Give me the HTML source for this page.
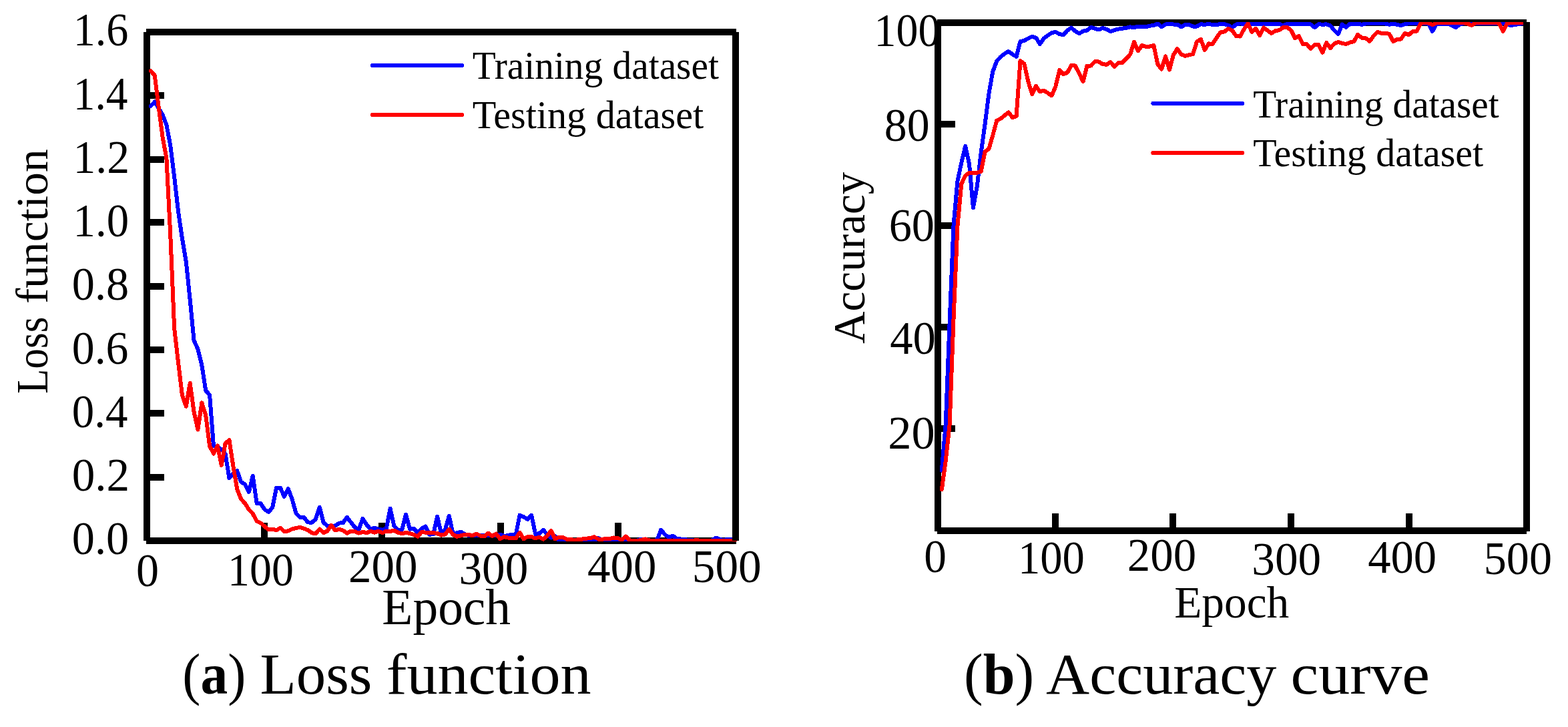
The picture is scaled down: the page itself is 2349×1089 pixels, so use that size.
<!DOCTYPE html>
<html lang="en"><head><meta charset="utf-8"><title>Loss function and accuracy curve</title>
<style>html,body{margin:0;padding:0;background:#fff}body{width:2349px;height:1089px;overflow:hidden}svg{display:block}text{font-family:"Liberation Serif",serif;fill:#000}</style>
</head><body>
<svg width="2349" height="1089" viewBox="0 0 2349 1089">
<rect width="2349" height="1089" fill="#fff"/>
<text x="1309.47" y="69.40" font-size="70.00" textLength="98.87" lengthAdjust="spacingAndGlyphs">100</text>
<text x="1324.79" y="211.00" font-size="70.00" textLength="67.83" lengthAdjust="spacingAndGlyphs">80</text>
<text x="1331.63" y="360.90" font-size="70.00" textLength="68.31" lengthAdjust="spacingAndGlyphs">60</text>
<text x="1333.23" y="530.00" font-size="70.00" textLength="68.62" lengthAdjust="spacingAndGlyphs">40</text>
<text x="1330.23" y="671.60" font-size="70.00" textLength="70.49" lengthAdjust="spacingAndGlyphs">20</text>
<clipPath id="cl"><rect x="218" y="47" width="886" height="764"/></clipPath>
<g stroke="#000" stroke-width="10" fill="none" shape-rendering="crispEdges">
<line x1="219" y1="48" x2="1103" y2="48"/>
<line x1="219" y1="810" x2="1103" y2="810"/>
<line x1="220" y1="48" x2="220" y2="810"/>
<line x1="220" y1="143.0" x2="246" y2="143.0"/>
<line x1="220" y1="239.0" x2="246" y2="239.0"/>
<line x1="220" y1="333.0" x2="246" y2="333.0"/>
<line x1="220" y1="429.0" x2="246" y2="429.0"/>
<line x1="220" y1="524.0" x2="246" y2="524.0"/>
<line x1="220" y1="619.0" x2="246" y2="619.0"/>
<line x1="220" y1="715.0" x2="246" y2="715.0"/>
<line x1="396.0" y1="810" x2="396.0" y2="783"/>
<line x1="572.0" y1="810" x2="572.0" y2="783"/>
<line x1="750.0" y1="810" x2="750.0" y2="783"/>
<line x1="926.0" y1="810" x2="926.0" y2="783"/>
</g>
<g clip-path="url(#cl)" fill="none" stroke-width="6.0" stroke-linejoin="round" stroke-linecap="round" shape-rendering="crispEdges">
<polyline stroke="#00f" points="225.88,158.90 231.76,152.40 237.64,162.00 243.52,172.00 249.40,187.00 255.28,218.00 261.16,265.00 267.04,317.00 272.92,357.00 278.80,392.00 284.68,449.00 290.56,510.00 296.44,523.00 302.32,547.00 308.20,585.00 314.08,591.50 319.96,668.00 325.84,670.00 331.72,673.00 337.60,680.00 343.48,716.30 349.36,709.00 355.24,705.30 361.12,721.80 367.00,725.50 372.88,736.90 378.76,712.60 384.64,754.00 390.52,754.00 396.40,763.20 402.28,766.80 408.16,760.40 414.04,730.60 419.92,730.60 425.80,743.90 431.68,731.90 437.56,747.50 443.44,768.70 449.32,774.70 455.20,774.70 461.08,782.40 466.96,782.80 472.84,778.00 478.72,759.80 484.60,782.50 490.48,788.00 496.36,788.00 502.24,787.60 508.12,783.60 514.00,783.00 519.88,774.70 525.76,782.50 531.64,789.90 537.52,793.60 543.40,776.60 549.28,786.20 555.16,792.60 561.04,790.60 566.92,792.60 572.80,793.60 578.68,792.60 584.56,761.70 590.44,788.00 596.32,794.50 602.20,793.60 608.08,770.60 613.96,792.60 619.84,791.50 625.72,798.00 631.60,791.70 637.48,788.60 643.36,800.90 649.24,800.00 655.12,773.60 661.00,799.10 666.88,793.60 672.76,772.70 678.64,800.00 684.52,798.20 690.40,796.60 696.28,800.00 702.16,802.00 708.04,802.00 713.92,802.00 719.80,802.00 725.68,802.00 731.56,802.00 737.44,802.00 743.32,801.80 749.20,800.50 755.08,802.70 760.96,802.30 766.84,800.70 772.72,800.90 778.60,771.80 784.48,774.30 790.36,777.90 796.24,771.80 802.12,800.00 808.00,799.10 813.88,793.80 819.76,800.90 825.64,805.50 831.52,802.80 837.40,809.50 843.28,810.10 849.16,810.00 855.04,810.00 860.92,810.00 866.80,810.00 872.68,810.00 878.56,810.00 884.44,810.00 890.32,810.00 896.20,805.70 902.08,809.50 907.96,810.50 913.84,810.50 919.72,810.50 925.60,810.50 931.48,810.50 937.36,810.50 943.24,810.50 949.12,810.50 955.00,809.40 960.88,807.50 966.76,810.00 972.64,810.00 978.52,810.00 984.40,808.80 990.28,793.60 996.16,800.90 1002.04,804.80 1007.92,802.50 1013.80,807.10 1019.68,807.50 1025.56,808.00 1031.44,809.00 1037.32,809.40 1043.20,810.00 1049.08,810.00 1054.96,810.00 1060.84,810.00 1066.72,809.40 1072.60,805.60 1078.48,807.80 1084.36,809.00 1090.24,807.80 1096.12,807.80 1102.00,809.00"/>
<polyline stroke="#f00" points="225.88,106.20 231.76,113.00 237.64,160.00 243.52,205.00 249.40,237.00 255.28,352.00 261.16,492.00 267.04,543.00 272.92,592.00 278.80,608.70 284.68,573.80 290.56,617.00 296.44,643.60 302.32,603.20 308.20,622.00 314.08,668.00 319.96,679.60 325.84,667.60 331.72,697.00 337.60,664.00 343.48,659.40 349.36,698.00 355.24,732.80 361.12,747.50 367.00,754.00 372.88,763.20 378.76,769.60 384.64,780.60 390.52,783.40 396.40,788.50 402.28,793.50 408.16,792.50 414.04,794.40 419.92,790.70 425.80,796.20 431.68,795.30 437.56,792.50 443.44,791.00 449.32,789.80 455.20,791.60 461.08,794.00 466.96,798.20 472.84,799.30 478.72,792.60 484.60,798.20 490.48,795.40 496.36,786.70 502.24,794.50 508.12,792.90 514.00,794.50 519.88,798.60 525.76,795.70 531.64,796.30 537.52,798.60 543.40,796.80 549.28,798.20 555.16,795.90 561.04,797.70 566.92,795.90 572.80,798.00 578.68,795.90 584.56,795.90 590.44,794.80 596.32,797.70 602.20,799.50 608.08,797.70 613.96,799.10 619.84,800.90 625.72,803.70 631.60,796.80 637.48,797.70 643.36,798.20 649.24,798.00 655.12,799.10 661.00,801.60 666.88,800.50 672.76,792.80 678.64,800.90 684.52,803.70 690.40,802.30 696.28,800.70 702.16,800.90 708.04,802.30 713.92,799.60 719.80,802.70 725.68,803.20 731.56,798.70 737.44,803.20 743.32,799.60 749.20,807.30 755.08,804.10 760.96,805.50 766.84,806.40 772.72,806.40 778.60,797.70 784.48,807.30 790.36,804.00 796.24,804.10 802.12,806.40 808.00,804.60 813.88,807.80 819.76,802.70 825.64,794.90 831.52,807.30 837.40,804.90 843.28,804.90 849.16,807.80 855.04,808.10 860.92,809.00 866.80,808.00 872.68,807.50 878.56,806.60 884.44,806.20 890.32,804.30 896.20,807.50 902.08,808.00 907.96,806.60 913.84,806.90 919.72,805.50 925.60,806.20 931.48,809.00 937.36,803.60 943.24,809.40 949.12,809.90 955.00,809.90 960.88,809.00 966.76,807.50 972.64,809.40 978.52,809.90 984.40,809.90 990.28,809.90 996.16,809.90 1002.04,809.90 1007.92,809.90 1013.80,809.90 1019.68,809.90 1025.56,809.90 1031.44,809.90 1037.32,809.90 1043.20,809.00 1049.08,809.90 1054.96,809.90 1060.84,809.90 1066.72,809.90 1072.60,809.90 1078.48,809.90 1084.36,809.90 1090.24,809.90 1096.12,809.90 1102.00,809.90"/>
</g>
<line x1="1102" y1="48" x2="1102" y2="810" stroke="#000" stroke-width="10" shape-rendering="crispEdges"/>
<clipPath id="cr"><rect x="1403" y="33" width="886" height="763"/></clipPath>
<g stroke="#000" stroke-width="10" fill="none" shape-rendering="crispEdges">
<line x1="1404" y1="34" x2="2287" y2="34"/>
<line x1="1404" y1="795" x2="2287" y2="795"/>
<line x1="1405" y1="33" x2="1405" y2="796"/>
<line x1="1405" y1="186.0" x2="1431" y2="186.0"/>
<line x1="1405" y1="338.0" x2="1431" y2="338.0"/>
<line x1="1405" y1="490.0" x2="1431" y2="490.0"/>
<line x1="1405" y1="642.0" x2="1431" y2="642.0"/>
<line x1="1581.0" y1="795" x2="1581.0" y2="769"/>
<line x1="1757.0" y1="795" x2="1757.0" y2="769"/>
<line x1="1934.0" y1="795" x2="1934.0" y2="769"/>
<line x1="2111.0" y1="795" x2="2111.0" y2="769"/>
</g>
<g clip-path="url(#cr)" fill="none" stroke-width="6.0" stroke-linejoin="round" stroke-linecap="round" shape-rendering="crispEdges">
<polyline stroke="#00f" points="1410.88,704.70 1416.76,635.00 1422.64,482.50 1428.52,337.50 1434.40,271.40 1440.28,243.90 1446.16,219.00 1452.04,245.70 1457.92,311.50 1463.80,278.80 1469.68,228.70 1475.56,186.10 1481.44,140.20 1487.32,107.10 1493.20,91.50 1499.08,85.10 1504.96,80.50 1510.84,77.00 1516.72,81.40 1522.60,84.80 1528.48,62.10 1534.36,60.90 1540.24,57.50 1546.12,54.80 1552.00,56.50 1557.88,66.00 1563.76,57.50 1569.64,53.00 1575.52,49.30 1581.40,47.90 1587.28,51.10 1593.16,52.10 1599.04,45.60 1604.92,41.50 1610.80,46.60 1616.68,50.20 1622.56,46.60 1628.44,45.60 1634.32,40.90 1640.20,42.90 1646.08,44.30 1651.96,42.00 1657.84,43.80 1663.72,47.20 1669.60,45.00 1675.48,43.60 1681.36,42.70 1687.24,41.80 1693.12,40.40 1699.00,41.30 1704.88,39.50 1710.76,40.20 1716.64,40.40 1722.52,38.60 1728.40,38.10 1734.28,35.40 1740.16,40.40 1746.04,36.50 1751.92,36.20 1757.80,36.50 1763.68,36.50 1769.56,40.40 1775.44,37.10 1781.32,37.20 1787.20,39.50 1793.08,39.50 1798.96,36.30 1804.84,36.80 1810.72,36.10 1816.60,36.80 1822.48,37.10 1828.36,35.90 1834.24,35.90 1840.12,38.00 1846.00,41.20 1851.88,36.70 1857.76,35.30 1863.64,36.00 1869.52,36.00 1875.40,36.00 1881.28,36.00 1887.16,36.00 1893.04,36.00 1898.92,35.60 1904.80,36.00 1910.68,36.00 1916.56,36.00 1922.44,38.00 1928.32,35.90 1934.20,35.90 1940.08,35.90 1945.96,35.90 1951.84,35.90 1957.72,35.90 1963.60,36.40 1969.48,41.20 1975.36,36.10 1981.24,36.80 1987.12,36.30 1993.00,38.30 1998.88,45.60 2004.76,51.00 2010.64,36.50 2016.52,41.00 2022.40,35.60 2028.28,35.60 2034.16,35.60 2040.04,36.80 2045.92,35.40 2051.80,35.40 2057.68,35.40 2063.56,35.40 2069.44,35.40 2075.32,35.40 2081.20,36.80 2087.08,35.40 2092.96,36.80 2098.84,38.10 2104.72,35.90 2110.60,35.40 2116.48,35.40 2122.36,35.40 2128.24,35.40 2134.12,35.40 2140.00,35.40 2145.88,47.00 2151.76,36.10 2157.64,35.60 2163.52,35.60 2169.40,35.60 2175.28,38.00 2181.16,41.20 2187.04,36.10 2192.92,35.10 2198.80,35.10 2204.68,35.10 2210.56,35.10 2216.44,35.10 2222.32,35.10 2228.20,35.10 2234.08,35.10 2239.96,35.10 2245.84,35.10 2251.72,35.10 2257.60,36.60 2263.48,38.00 2269.36,37.10 2275.24,36.10 2281.12,35.10 2287.00,35.10"/>
<polyline stroke="#f00" points="1410.88,733.00 1416.76,690.00 1422.64,636.00 1428.52,477.50 1434.40,339.40 1440.28,275.50 1446.16,263.20 1452.04,258.90 1457.92,258.90 1463.80,258.90 1469.68,256.70 1475.56,227.40 1481.44,222.80 1487.32,202.60 1493.20,180.60 1499.08,177.80 1504.96,172.90 1510.84,168.20 1516.72,176.00 1522.60,174.20 1528.48,91.20 1534.36,95.50 1540.24,121.80 1546.12,141.00 1552.00,128.70 1557.88,137.40 1563.76,135.60 1569.64,139.30 1575.52,143.30 1581.40,129.50 1587.28,105.00 1593.16,111.10 1599.04,108.60 1604.92,98.00 1610.80,98.50 1616.68,110.00 1622.56,122.00 1628.44,98.50 1634.32,98.50 1640.20,92.10 1646.08,92.50 1651.96,96.20 1657.84,96.70 1663.72,93.00 1669.60,99.90 1675.48,94.10 1681.36,93.90 1687.24,87.90 1693.12,81.50 1699.00,62.90 1704.88,76.40 1710.76,68.00 1716.64,70.00 1722.52,69.50 1728.40,68.00 1734.28,96.20 1740.16,103.60 1746.04,84.30 1751.92,104.50 1757.80,82.40 1763.68,73.00 1769.56,81.50 1775.44,83.80 1781.32,82.40 1787.20,81.00 1793.08,62.20 1798.96,59.00 1804.84,75.00 1810.72,65.40 1816.60,65.90 1822.48,56.70 1828.36,48.40 1834.24,47.50 1840.12,42.90 1846.00,45.60 1851.88,53.90 1857.76,54.60 1863.64,43.80 1869.52,35.00 1875.40,47.90 1881.28,42.90 1887.16,53.00 1893.04,41.50 1898.92,45.60 1904.80,50.00 1910.68,46.10 1916.56,45.20 1922.44,40.90 1928.32,40.90 1934.20,45.60 1940.08,57.10 1945.96,54.10 1951.84,65.90 1957.72,66.30 1963.60,72.80 1969.48,67.10 1975.36,67.10 1981.24,78.70 1987.12,64.00 1993.00,72.10 1998.88,65.40 2004.76,62.90 2010.64,64.90 2016.52,66.00 2022.40,63.60 2028.28,62.20 2034.16,51.90 2040.04,56.70 2045.92,57.10 2051.80,62.00 2057.68,53.90 2063.56,47.90 2069.44,49.80 2075.32,50.00 2081.20,50.70 2087.08,62.00 2092.96,59.00 2098.84,58.50 2104.72,49.80 2110.60,52.10 2116.48,47.00 2122.36,46.60 2128.24,35.00 2134.12,34.00 2140.00,34.50 2145.88,37.20 2151.76,34.50 2157.64,34.00 2163.52,34.00 2169.40,34.00 2175.28,34.00 2181.16,34.00 2187.04,34.00 2192.92,34.00 2198.80,35.50 2204.68,38.10 2210.56,34.00 2216.44,34.00 2222.32,34.00 2228.20,34.00 2234.08,34.00 2239.96,34.00 2245.84,35.00 2251.72,47.00 2257.60,35.50 2263.48,34.00 2269.36,34.00 2275.24,34.00 2281.12,34.00 2287.00,34.00"/>
</g>
<line x1="2287" y1="33" x2="2287" y2="796" stroke="#000" stroke-width="10" shape-rendering="crispEdges"/>
<g stroke-width="6" stroke-linecap="round" fill="none" shape-rendering="crispEdges">
<line x1="558.0" y1="98.0" x2="692.3" y2="98.0" stroke="#00f"/>
<line x1="558.0" y1="172.0" x2="692.3" y2="172.0" stroke="#f00"/>
</g>
<text x="707.70" y="118.10" font-size="59.30" textLength="369.16" lengthAdjust="spacingAndGlyphs">Training dataset</text>
<text x="707.69" y="192.10" font-size="59.30" textLength="346.57" lengthAdjust="spacingAndGlyphs">Testing dataset</text>
<g stroke-width="6" stroke-linecap="round" fill="none" shape-rendering="crispEdges">
<line x1="1727.3" y1="154.9" x2="1861.0" y2="154.9" stroke="#00f"/>
<line x1="1727.3" y1="229.0" x2="1861.0" y2="229.0" stroke="#f00"/>
</g>
<text x="1877.15" y="176.00" font-size="59.30" textLength="368.41" lengthAdjust="spacingAndGlyphs">Training dataset</text>
<text x="1877.14" y="249.20" font-size="59.30" textLength="345.01" lengthAdjust="spacingAndGlyphs">Testing dataset</text>
<text x="109.64" y="68.40" font-size="70.00" textLength="82.74" lengthAdjust="spacingAndGlyphs">1.6</text>
<text x="109.72" y="163.65" font-size="70.00" textLength="81.66" lengthAdjust="spacingAndGlyphs">1.4</text>
<text x="109.51" y="258.90" font-size="70.00" textLength="84.62" lengthAdjust="spacingAndGlyphs">1.2</text>
<text x="109.59" y="354.15" font-size="70.00" textLength="83.48" lengthAdjust="spacingAndGlyphs">1.0</text>
<text x="107.77" y="449.40" font-size="70.00" textLength="85.36" lengthAdjust="spacingAndGlyphs">0.8</text>
<text x="107.79" y="544.65" font-size="70.00" textLength="84.64" lengthAdjust="spacingAndGlyphs">0.6</text>
<text x="107.83" y="639.90" font-size="70.00" textLength="83.58" lengthAdjust="spacingAndGlyphs">0.4</text>
<text x="107.73" y="735.15" font-size="70.00" textLength="86.47" lengthAdjust="spacingAndGlyphs">0.2</text>
<text x="107.77" y="830.40" font-size="70.00" textLength="85.36" lengthAdjust="spacingAndGlyphs">0.0</text>
<text x="204.08" y="878.30" font-size="70.00" textLength="34.05" lengthAdjust="spacingAndGlyphs">0</text>
<text x="340.97" y="877.30" font-size="70.00" textLength="98.87" lengthAdjust="spacingAndGlyphs">100</text>
<text x="521.99" y="871.70" font-size="70.00" textLength="103.57" lengthAdjust="spacingAndGlyphs">200</text>
<text x="687.54" y="874.50" font-size="70.00" textLength="103.72" lengthAdjust="spacingAndGlyphs">300</text>
<text x="880.12" y="871.70" font-size="70.00" textLength="103.23" lengthAdjust="spacingAndGlyphs">400</text>
<text x="1036.74" y="871.50" font-size="70.00" textLength="103.93" lengthAdjust="spacingAndGlyphs">500</text>
<text x="572.34" y="934.60" font-size="75.50" textLength="192.77" lengthAdjust="spacingAndGlyphs">Epoch</text>
<text x="1384.20" y="856.80" font-size="70.00" textLength="33.69" lengthAdjust="spacingAndGlyphs">0</text>
<text x="1524.90" y="859.10" font-size="70.00" textLength="99.96" lengthAdjust="spacingAndGlyphs">100</text>
<text x="1688.80" y="855.20" font-size="70.00" textLength="103.25" lengthAdjust="spacingAndGlyphs">200</text>
<text x="1875.34" y="861.00" font-size="70.00" textLength="103.83" lengthAdjust="spacingAndGlyphs">300</text>
<text x="2049.23" y="857.80" font-size="70.00" textLength="102.92" lengthAdjust="spacingAndGlyphs">400</text>
<text x="2222.82" y="860.30" font-size="70.00" textLength="102.11" lengthAdjust="spacingAndGlyphs">500</text>
<text x="1759.18" y="925.30" font-size="67.70" textLength="172.11" lengthAdjust="spacingAndGlyphs">Epoch</text>
<text transform="translate(70.80,587.80) rotate(-90)" x="-1.83" y="0" font-size="67.20" textLength="115.01" lengthAdjust="spacingAndGlyphs">Loss</text>
<text transform="translate(70.80,453.00) rotate(-90)" x="-2.09" y="0" font-size="67.20" textLength="231.81" lengthAdjust="spacingAndGlyphs">function</text>
<text transform="translate(1294.70,514.30) rotate(-90)" x="-0.67" y="0" font-size="68.50" textLength="257.25" lengthAdjust="spacingAndGlyphs">Accuracy</text>
<text x="273.34" y="1039.20" font-size="87.50" textLength="94.91" lengthAdjust="spacingAndGlyphs">(<tspan font-weight="bold">a</tspan>)</text>
<text x="389.54" y="1039.20" font-size="87.50" textLength="167.80" lengthAdjust="spacingAndGlyphs">Loss</text>
<text x="578.74" y="1039.20" font-size="87.50" textLength="306.88" lengthAdjust="spacingAndGlyphs">function</text>
<text x="1444.03" y="1039.20" font-size="87.50" textLength="105.21" lengthAdjust="spacingAndGlyphs">(<tspan font-weight="bold">b</tspan>)</text>
<text x="1567.10" y="1039.20" font-size="87.50" textLength="345.21" lengthAdjust="spacingAndGlyphs">Accuracy</text>
<text x="1933.54" y="1039.20" font-size="87.50" textLength="208.51" lengthAdjust="spacingAndGlyphs">curve</text>
</svg>
</body></html>
